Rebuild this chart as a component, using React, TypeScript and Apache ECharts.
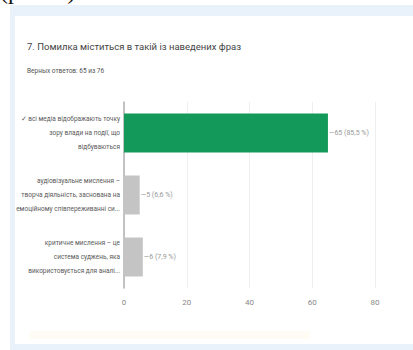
import React, { useEffect, useRef } from "react";
import * as echarts from "echarts";

const categories = [
  "✓ всі медіа відображають точку\nзору влади на події, що\nвідбуваються",
  "аудіовізуальне мислення –\nтворча діяльність, заснована на\nемоційному співпереживанні си...",
  "критичне мислення – це\nсистема суджень, яка\nвикористовується для аналі...",
];
const values = [65, 5, 6];
const percents = ["85,5 %", "6,6 %", "7,9 %"];
const barColors = ["#13995a", "#c4c4c4", "#c4c4c4"];
const xTicks = [0, 20, 40, 60, 80];

export default function App() {
  const ref = useRef<HTMLDivElement>(null);
  useEffect(() => {
    if (!ref.current) return;
    const chart = echarts.init(ref.current, undefined, { renderer: "svg" });
    chart.setOption({
      animation: false,
      backgroundColor: "#ffffff",
      graphic: [
        { type: "rect", z: -10, shape: { x: 10, y: 5, width: 403, height: 345 }, style: { fill: "#e9f1fb" } },
        { type: "rect", z: -9, shape: { x: 15, y: 16, width: 398, height: 328 }, style: { fill: "#ffffff" } },
        { type: "rect", z: -8, shape: { x: 30, y: 331, width: 280, height: 8 }, style: { fill: "#fffcf5" } },
        {
          type: "text", left: 0, top: -21,
          style: { text: "(рис. 7)", font: "24px 'Liberation Serif', serif", fill: "#111" },
        },
        {
          type: "text", left: 27, top: 41,
          style: { text: "7. Помилка міститься в такій із наведених фраз", font: "9.5px Roboto, sans-serif", fill: "#444" },
        },
        {
          type: "text", left: 27, top: 67,
          style: { text: "Верных ответов: 65 из 76", font: "6.5px Roboto, sans-serif", fill: "#555" },
        },
      ],
      grid: { left: 124, right: 38, top: 102, bottom: 62, containLabel: false },
      xAxis: {
        type: "value",
        min: xTicks[0],
        max: xTicks[xTicks.length - 1],
        interval: 20,
        axisLine: { show: false },
        axisTick: { show: false },
        splitLine: { lineStyle: { color: "#efefef" } },
        axisLabel: { color: "#888", fontSize: 8, margin: 10, fontFamily: "Roboto" },
      },
      yAxis: {
        type: "category",
        inverse: true,
        data: categories,
        axisLine: { lineStyle: { color: "#b0b0b0", width: 1.5 } },
        axisTick: { show: false },
        axisLabel: {
          color: "#5a5a5a",
          fontSize: 6.5,
          lineHeight: 14,
          margin: 4,
          fontFamily: "Roboto",
        },
      },
      series: [
        {
          type: "bar",
          barWidth: 39,
          data: values.map((v, i) => ({ value: v, itemStyle: { color: barColors[i] } })),
          label: {
            show: true,
            position: "right",
            distance: 1,
            color: "#999",
            fontSize: 7,
            fontFamily: "Roboto",
            formatter: (p: any) => "—" + p.value + " (" + percents[p.dataIndex] + ")",
          },
        },
      ],
    });
    return () => chart.dispose();
  }, []);
  return (
    <div
      ref={ref}
      style={{ position: "fixed", left: 0, top: 0, width: 413, height: 350 }}
    />
  );
}
